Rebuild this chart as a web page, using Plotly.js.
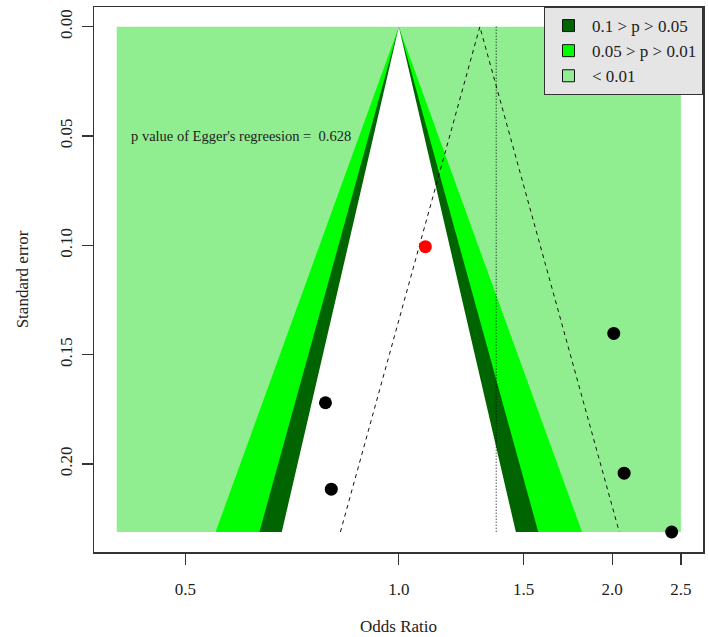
<!DOCTYPE html>
<html>
<head>
<meta charset="utf-8">
<script src="https://cdn.plot.ly/plotly-3.0.1.min.js"></script>
<style>html,body{margin:0;padding:0;background:#fff;}#chart{width:709px;height:637px;}</style>
</head>
<body>
<div id="chart"></div>
<script>
// ---- data ----
var studyOR = [0.788, 0.803, 1.090, 2.010, 2.079, 2.426];
var studySE = [0.172, 0.2115, 0.1006, 0.1403, 0.2042, 0.2311];
var studyColor = ['black', 'black', 'red', 'black', 'black', 'black'];

var contourLabels = ['0.1 > p > 0.05', '0.05 > p > 0.01', '< 0.01'];
var contourColors = ['#006400', '#00ff00', '#90ee90'];
var contourZ = [1.645, 1.960, 2.576];   // two-sided z for p = 0.1, 0.05, 0.01
var seMax = 0.2311;
var shadeOR = [0.4, 2.5];               // extent of the shaded < 0.01 region
var nullOR = 1.0;

var funnelCentreOR = 1.301;             // dashed funnel (pooled estimate)
var funnelZ = 1.96;
var refLineOR = 1.372;                  // dotted vertical reference line

var xTickVals = [0.5, 1.0, 1.5, 2.0, 2.5];
var xTickText = ['0.5', '1.0', '1.5', '2.0', '2.5'];
var yTickVals = [0.00, 0.05, 0.10, 0.15, 0.20];
var yTickText = ['0.00', '0.05', '0.10', '0.15', '0.20'];
var eggerText = "p value of Egger's regreesion =  0.628";

// ---- build traces ----
var FONT = 'Liberation Serif, Times New Roman, serif';
var traces = [];

function triangle(centre, z, color) {
  var lc = Math.log(centre);
  return {
    x: [Math.exp(lc - z * seMax), centre, Math.exp(lc + z * seMax), Math.exp(lc - z * seMax)],
    y: [seMax, 0, seMax, seMax],
    mode: 'lines', fill: 'toself', fillcolor: color,
    line: {width: 0, color: color}, hoverinfo: 'skip', showlegend: false
  };
}

// light green rectangle (< 0.01)
traces.push({
  x: [shadeOR[0], shadeOR[1], shadeOR[1], shadeOR[0], shadeOR[0]],
  y: [0, 0, seMax, seMax, 0],
  mode: 'lines', fill: 'toself', fillcolor: contourColors[2],
  line: {width: 0, color: contourColors[2]}, hoverinfo: 'skip', showlegend: false
});
traces.push(triangle(nullOR, contourZ[2], contourColors[1]));
traces.push(triangle(nullOR, contourZ[1], contourColors[0]));
traces.push(triangle(nullOR, contourZ[0], '#ffffff'));

// dashed funnel
var lcf = Math.log(funnelCentreOR);
traces.push({
  x: [Math.exp(lcf - funnelZ * seMax), funnelCentreOR, Math.exp(lcf + funnelZ * seMax)],
  y: [seMax, 0, seMax],
  mode: 'lines', line: {color: '#111', width: 1, dash: '4px,4px'},
  hoverinfo: 'skip', showlegend: false
});
// dotted vertical line
traces.push({
  x: [refLineOR, refLineOR], y: [0, seMax],
  mode: 'lines', line: {color: '#000', width: 1, dash: '1px,2px'},
  hoverinfo: 'skip', showlegend: false
});
// studies
traces.push({
  x: studyOR, y: studySE, mode: 'markers',
  marker: {size: 13, color: studyColor, line: {width: 0}},
  showlegend: false
});
// legend entries
for (var i = 0; i < contourLabels.length; i++) {
  traces.push({
    x: [null], y: [null], mode: 'markers', name: contourLabels[i],
    marker: {symbol: 'square', size: 12, color: contourColors[i], line: {color: '#111', width: 1}},
    showlegend: true
  });
}

var layout = {
  width: 709, height: 637,
  margin: {l: 94, r: 6, t: 7, b: 85},
  paper_bgcolor: '#fff', plot_bgcolor: '#fff',
  font: {family: FONT, size: 17, color: '#222'},
  showlegend: true,
  legend: {
    x: 1, xanchor: 'right', y: 1, yanchor: 'top',
    bgcolor: '#e5e5e5', bordercolor: '#333', borderwidth: 1,
    font: {family: FONT, size: 17, color: '#222'},
    itemwidth: 37,
    tracegroupgap: 0
  },
  xaxis: {
    type: 'log', range: [Math.log10(0.3715), Math.log10(2.686)],
    tickvals: xTickVals, ticktext: xTickText,
    ticks: 'outside', ticklen: 11, tickwidth: 1.3, tickcolor: '#333',
    ticklabelstandoff: 10,
    showline: true, linecolor: '#333', linewidth: 1.5, mirror: true,
    showgrid: false, zeroline: false,
    title: {text: 'Odds Ratio', font: {family: FONT, size: 17}, standoff: 22}
  },
  yaxis: {
    range: [0.24025, -0.00901],
    tickvals: yTickVals, ticktext: yTickText, tickangle: -90,
    ticks: 'outside', ticklen: 11, tickwidth: 1.3, tickcolor: '#333',
    ticklabelstandoff: 3,
    showline: true, linecolor: '#333', linewidth: 1.5, mirror: true,
    showgrid: false, zeroline: false,
    title: {text: 'Standard error', font: {family: FONT, size: 17}, standoff: 24}
  },
  annotations: [{
    xref: 'paper', yref: 'y', x: 0.057, y: 0.05,
    xanchor: 'left', yanchor: 'middle', showarrow: false,
    text: eggerText, font: {family: FONT, size: 14.5, color: '#222'}
  }]
};

Plotly.newPlot('chart', traces, layout, {displayModeBar: false, staticPlot: true});
</script>
</body>
</html>
